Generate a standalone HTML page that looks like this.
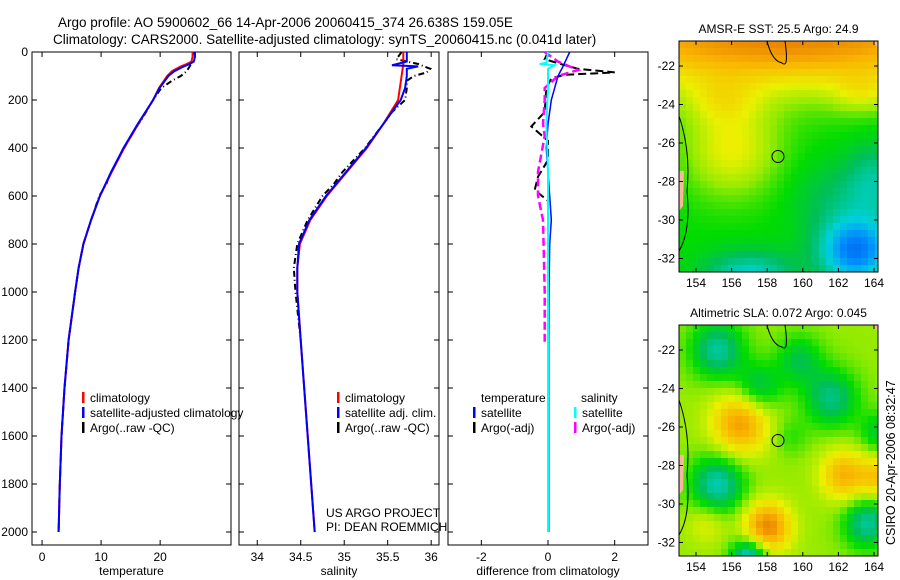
<!DOCTYPE html>
<html><head><meta charset="utf-8">
<style>
body{margin:0;background:#fff;}
svg{display:block;font-family:"Liberation Sans",Arial,sans-serif;}
</style></head>
<body>
<svg id="fig" width="900" height="580" viewBox="0 0 900 580" xmlns="http://www.w3.org/2000/svg">
<rect width="900" height="580" fill="#fff"/>
<text x="58" y="27" font-size="13.5">Argo profile: AO 5900602_66 14-Apr-2006 20060415_374 26.638S 159.05E</text>
<text x="53" y="44" font-size="13.5">Climatology: CARS2000. Satellite-adjusted climatology: synTS_20060415.nc (0.041d later)</text>
<g id="panels"></g>
<text transform="translate(895,545) rotate(-90)" font-size="12.5">CSIRO 20-Apr-2006 08:32:47</text>
</svg>
<script>
// ---------- Data ----------
const tDepth=[0,20,40,50,60,80,100,150,200,300,400,500,600,700,800,900,1000,1200,1400,1600,1800,2000];
const tClim=[25.5,25.5,25.3,24.5,23.5,22,21.2,19.8,18.8,16.3,13.9,11.8,9.8,8.3,7,6.2,5.6,4.5,3.8,3.3,3.0,2.8];
const tSat=[25.9,25.9,25.7,25,24,22.4,21.4,19.9,18.8,16.2,13.8,11.7,9.8,8.3,7,6.2,5.6,4.5,3.8,3.3,3.0,2.8];
const tArgoDepth=[0,20,40,60,80,100,120,150,200,280,300,400,520,550,600,700,800,900,1000,1200,1400,1600,1800,2000];
const tArgo=[25.6,25.5,25.4,25,24.5,23.5,22,20.2,18.8,16.9,16.3,13.9,11.3,10.9,9.7,8.3,7,6.2,5.6,4.5,3.8,3.3,3.0,2.8];

const sDepth=[0,50,100,200,300,400,500,600,700,800,900,1000,1200,1400,1600,1800,2000];
const sClim=[35.68,35.68,35.66,35.62,35.45,35.26,35.03,34.8,34.61,34.49,34.46,34.46,34.5,34.54,34.58,34.62,34.66];
const sSatDepth=[0,40,55,60,70,100,150,200,300,400,500,600,700,800,900,1000,1200,1400,1600,1800,2000];
const sSat=[35.72,35.72,35.55,35.85,35.72,35.72,35.7,35.65,35.45,35.25,35.02,34.79,34.6,34.48,34.46,34.46,34.5,34.54,34.58,34.62,34.66];
const sArgoDepth=[0,30,50,70,85,100,120,150,200,250,300,400,500,550,600,700,800,900,1000,1200];
const sArgo=[35.66,35.6,35.85,35.99,35.95,35.8,35.72,35.72,35.7,35.55,35.45,35.24,34.98,34.88,34.75,34.58,34.46,34.42,34.44,34.5];

const dTSatDepth=[0,60,100,200,300,400,500,600,700,800,1000,1200,2000];
const dTSat=[0.65,0.45,0.3,0.1,0.0,-0.05,0.0,0.05,0.1,0.05,0.03,0.02,0.02];
const dSSatDepth=[0,45,50,55,70,150,300,400,500,700,1000,2000];
const dSSat=[0.0,-0.05,-0.25,0.2,0.0,0.0,-0.05,-0.02,0,0,0,0];
const dTArgoDepth=[0,30,55,70,85,95,110,150,250,310,370,450,520,575,620,800,2000];
const dTArgo=[0,-0.1,0.5,0.9,2.0,0.5,0.1,-0.05,-0.1,-0.5,0,0,-0.3,-0.4,0,0,0];
const dSArgoDepth=[0,40,75,100,150,200,300,350,500,600,700,1000,1220];
const dSArgo=[-0.1,0.3,0.9,0.3,-0.1,-0.1,-0.15,-0.1,-0.3,-0.3,-0.15,-0.1,-0.1];

const tTicks=[0,10,20], sTicks=[34,34.5,35,35.5,36], dTicks=[-2,0,2];
const depthTicks=[0,200,400,600,800,1000,1200,1400,1600,1800,2000];
const lonTicks=[154,156,158,160,162,164], latTicks=[-22,-24,-26,-28,-30,-32];

// ---------- helpers ----------
const NS="http://www.w3.org/2000/svg";
const root=document.getElementById('panels');
function mk(tag,attrs,parent){const e=document.createElementNS(NS,tag);for(const k in attrs)e.setAttribute(k,attrs[k]);(parent||root).appendChild(e);return e;}
const top0=52,bot=545;
const yD=d=>top0+d*0.24;

function panel(name,x0,x1,xmin,xmax,ticks,label,showDepth){
  const g=mk('g',{});
  
  
  const xs=v=>x0+(v-xmin)/(xmax-xmin)*(x1-x0);
  mk('rect',{x:x0,y:top0,width:x1-x0,height:bot-top0,fill:'none',stroke:'#000','stroke-width':1},g);
  ticks.forEach(t=>{
    const x=xs(t);
    mk('line',{x1:x,x2:x,y1:bot,y2:bot-5,stroke:'#000'},g);
    mk('line',{x1:x,x2:x,y1:top0,y2:top0+5,stroke:'#000'},g);
    const tx=mk('text',{x:x,y:bot+16,'font-size':12,'text-anchor':'middle'},g);tx.textContent=t;
    
    
  });
  depthTicks.forEach(d=>{
    mk('line',{x1:x0,x2:x0+5,y1:yD(d),y2:yD(d),stroke:'#000'},g);
    mk('line',{x1:x1,x2:x1-5,y1:yD(d),y2:yD(d),stroke:'#000'},g);
    if(showDepth){const tx=mk('text',{x:x0-4,y:yD(d)+4,'font-size':12,'text-anchor':'end'},g);tx.textContent=d;
      
      }
  });
  const lb=mk('text',{x:(x0+x1)/2,y:575,'font-size':12,'text-anchor':'middle'},g);lb.textContent=label;
  
  
  return {g,xs};
}
function line(p,depth,vals,color,w,dash,name){
  const pts=depth.map((d,i)=>p.xs(vals[i]).toFixed(1)+','+yD(d).toFixed(1)).join(' ');
  const e=mk('polyline',{points:pts,fill:'none',stroke:color,'stroke-width':w},p.g);
  if(dash)e.setAttribute('stroke-dasharray',dash);
  
  
}
function legend(g,x,y,color,text,name){
  mk('rect',{x:x,y:y-10,width:2.5,height:11,fill:color},g);
  const t=mk('text',{x:x+8,y:y,'font-size':12},g);t.textContent=text;
  
  
}

// Panel 1 temperature
const p1=panel('temperature-panel',32,231,-1.7,32,tTicks,'temperature',true);
line(p1,tArgoDepth,tArgo,'#000',2,'6,3,1,3','argo-temperature-line');
line(p1,tDepth,tClim,'#f00',2,null,'climatology-temperature-line');
line(p1,tDepth,tSat,'#00f',2,null,'satellite-temperature-line');
legend(p1.g,82,402,'#f00','climatology','legend-climatology');
legend(p1.g,82,417,'#00f','satellite-adjusted climatology','legend-satellite');
legend(p1.g,82,432,'#000','Argo(..raw -QC)','legend-argo');

// Panel 2 salinity
const p2=panel('salinity-panel',239,439,33.79,36.09,sTicks,'salinity',false);
line(p2,sArgoDepth,sArgo,'#000',2,'6,3,1,3','argo-salinity-line');
line(p2,sDepth,sClim,'#f00',2,null,'climatology-salinity-line');
line(p2,sSatDepth,sSat,'#00f',2,null,'satellite-salinity-line');
legend(p2.g,337,402,'#f00','climatology','legend-climatology');
legend(p2.g,337,417,'#00f','satellite adj. clim.','legend-satellite');
legend(p2.g,337,432,'#000','Argo(..raw -QC)','legend-argo');
const c1=mk('text',{x:326,y:517,'font-size':12},p2.g);c1.textContent='US ARGO PROJECT';


const c2=mk('text',{x:326,y:531,'font-size':12},p2.g);c2.textContent='PI: DEAN ROEMMICH';



// Panel 3 differences
const p3=panel('difference-panel',448,648,-3.0,3.0,dTicks,'difference from climatology',false);
line(p3,dTArgoDepth,dTArgo,'#000',2,'8,4','argo-temperature-diff-line');
line(p3,dSArgoDepth,dSArgo,'#f0f',2.5,'8,4','argo-salinity-diff-line');
line(p3,dTSatDepth,dTSat,'#00f',1.5,null,'satellite-temperature-diff-line');
line(p3,dSSatDepth,dSSat,'#0ff',2,null,'satellite-salinity-diff-line');
const lt=mk('text',{x:481,y:402,'font-size':12},p3.g);lt.textContent='temperature';


const ls=mk('text',{x:581,y:402,'font-size':12},p3.g);ls.textContent='salinity';


legend(p3.g,473,417,'#00f','satellite','legend-temp-satellite');
legend(p3.g,473,432,'#000','Argo(-adj)','legend-temp-argo');
legend(p3.g,574,417,'#0ff','satellite','legend-sal-satellite');
legend(p3.g,574,432,'#f0f','Argo(-adj)','legend-sal-argo');

// ---------- Maps ----------
// blob: [lon, lat, amplitude, lonWidth, latWidth]
const sstBlobs=[[159,-20.5,0.36,14,2.7],[163.3,-23.4,0.08,1.6,1],[155.5,-23.8,0.08,2,1.2],[156,-26.3,0.16,2.6,2.4],[163,-31.6,-0.3,2,1.6],[157,-33,-0.17,2.5,1.3],[164,-28,-0.1,1.5,2],[162,-29,-0.07,2.5,2]];
const slaBlobs=[[156.5,-25.8,0.24,1.6,1.6],[158,-31.2,0.28,1.3,1.3],[162.3,-28.5,0.2,1.3,1.3],[164.3,-28.6,0.16,1.1,1.1],[154.6,-31,0.08,1.1,1.1],[155.2,-22,-0.2,1.5,1.5],[155.2,-29,-0.22,1.5,1.5],[157.5,-24,-0.15,1.3,1.3],[161.6,-24.5,-0.18,1.5,1.5],[163.6,-31,-0.2,1.3,1.3],[159.8,-22.5,-0.13,1.3,1.3],[157,-32.8,-0.28,1,1],[164.3,-26.3,-0.12,1.1,1.1],[159.3,-26.5,-0.06,1,1]];
function cmap(v){
  const stops=[[0.1,[0,60,220]],[0.25,[0,140,255]],[0.35,[0,210,220]],[0.45,[0,190,90]],[0.52,[0,220,0]],[0.6,[150,235,0]],[0.68,[235,240,0]],[0.8,[250,180,0]],[0.92,[225,110,0]]];
  if(v<=stops[0][0])return 'rgb('+stops[0][1]+')';
  for(let i=1;i<stops.length;i++){if(v<=stops[i][0]){const a=stops[i-1],b=stops[i],f=(v-a[0])/(b[0]-a[0]);return 'rgb('+a[1].map((c,j)=>Math.round(c+(b[1][j]-c)*f)).join(',')+')';}}
  return 'rgb('+stops[stops.length-1][1]+')';
}
function map(name,y0,title,base,blobs){
  const g=mk('g',{});
  
  
  const x0=679,x1=878,y1=y0+231;
  const lx=l=>696+(l-154)*17.8, ly=l=>y0+25+(-22-l)*19.25;
  const lonAt=x=>154+(x-696)/17.8, latAt=y=>-22-(y-y0-25)/19.25;
  const cw=7,ch=7;
  for(let y=y0;y<y1;y+=ch)for(let x=x0;x<x1;x+=cw){
    const lo=lonAt(x+cw/2),la=latAt(y+ch/2);
    let v=base;
    blobs.forEach(b=>{const dx=(lo-b[0])/b[3],dy=(la-b[1])/b[4];v+=b[2]*Math.exp(-(dx*dx+dy*dy));});
    mk('rect',{x:x,y:y,width:Math.min(cw,x1-x)+0.3,height:Math.min(ch,y1-y)+0.3,fill:cmap(v)},g);
  }
  mk('path',{d:`M${x0},${y0+75} Q${x0+12},${y0+110} ${x0+8},${y0+150} Q${x0+12},${y0+190} ${x0},${y0+210}`,fill:'none',stroke:'#000','stroke-width':1},g);
  mk('path',{d:`M${x0},${y0+130} L${x0+5},${y0+130} L${x0+4},${y0+165} L${x0},${y0+170}Z`,fill:'#f5b89a'},g);
  mk('path',{d:`M${x1-6},${y0} L${x1},${y0} L${x1},${y0+7}Z`,fill:'#f5b89a'},g);
  mk('path',{d:`M${x0+88},${y0} Q${x0+93},${y0+20} ${x0+103},${y0+22} Q${x0+110},${y0+28} ${x0+106},${y0}`,fill:'none',stroke:'#000'},g);
  const mark=mk('circle',{cx:778,cy:ly(-26.7),r:6,fill:'none',stroke:'#000'},g);
  
  
  mk('rect',{x:x0,y:y0,width:x1-x0,height:y1-y0,fill:'none',stroke:'#000'},g);
  lonTicks.forEach(l=>{const x=lx(l);mk('line',{x1:x,x2:x,y1:y1,y2:y1-4,stroke:'#000'},g);mk('line',{x1:x,x2:x,y1:y0,y2:y0+4,stroke:'#000'},g);
    const t=mk('text',{x:x,y:y1+15,'font-size':12,'text-anchor':'middle'},g);t.textContent=l;
    
    });
  latTicks.forEach(l=>{const y=ly(l);mk('line',{x1:x0,x2:x0+4,y1:y,y2:y,stroke:'#000'},g);mk('line',{x1:x1,x2:x1-4,y1:y,y2:y,stroke:'#000'},g);
    const t=mk('text',{x:x0-4,y:y+4,'font-size':12,'text-anchor':'end'},g);t.textContent=l;
    
    });
  const tt=mk('text',{x:(x0+x1)/2,y:y0-8,'font-size':12,'text-anchor':'middle'},g);tt.textContent=title;
  
  
}
map('sst-map',41,'AMSR-E SST: 25.5 Argo: 24.9',0.52,sstBlobs);
map('sla-map',325,'Altimetric SLA: 0.072 Argo: 0.045',0.6,slaBlobs);
</script>
</body></html>
